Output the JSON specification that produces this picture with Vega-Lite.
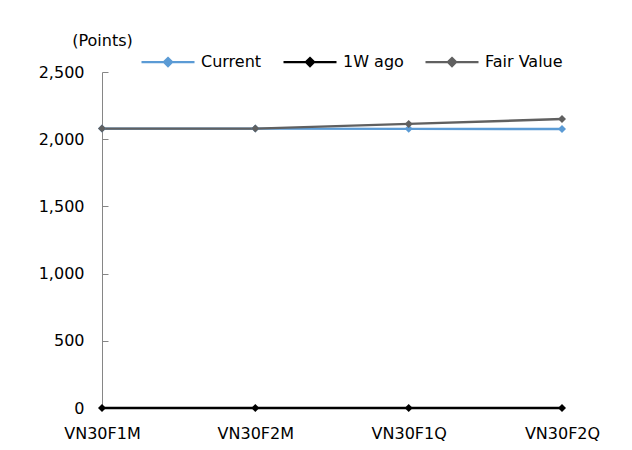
{
  "$schema": "https://vega.github.io/schema/vega-lite/v6.json",
  "autosize": {"type": "none"},
  "width": 460,
  "height": 336,
  "padding": {"left": 102, "top": 72, "right": 70, "bottom": 42},
  "background": "white",
  "config": {
    "view": {"stroke": null},
    "font": "DejaVu Sans",
    "axis": {"labelFont": "DejaVu Sans", "labelFontSize": 16, "labelColor": "#000", "titleFont": "DejaVu Sans"},
    "legend": {"labelFont": "DejaVu Sans", "labelFontSize": 16, "labelColor": "#000"}
  },
  "data": {
    "values": [
      {"series": "1W ago", "contract": "VN30F1M", "value": 0},
      {"series": "1W ago", "contract": "VN30F2M", "value": 0},
      {"series": "1W ago", "contract": "VN30F1Q", "value": 0},
      {"series": "1W ago", "contract": "VN30F2Q", "value": 0},
      {"series": "Current", "contract": "VN30F1M", "value": 2079},
      {"series": "Current", "contract": "VN30F2M", "value": 2079},
      {"series": "Current", "contract": "VN30F1Q", "value": 2077},
      {"series": "Current", "contract": "VN30F2Q", "value": 2076},
      {"series": "Fair Value", "contract": "VN30F1M", "value": 2079},
      {"series": "Fair Value", "contract": "VN30F2M", "value": 2079},
      {"series": "Fair Value", "contract": "VN30F1Q", "value": 2114},
      {"series": "Fair Value", "contract": "VN30F2Q", "value": 2150}
    ]
  },
  "mark": {"type": "line", "strokeWidth": 2.4, "point": {"filled": true, "shape": "diamond", "size": 64, "opacity": 1}},
  "encoding": {
    "x": {
      "field": "contract", "type": "ordinal",
      "sort": ["VN30F1M", "VN30F2M", "VN30F1Q", "VN30F2Q"],
      "scale": {"type": "point", "padding": 0},
      "axis": {"title": null, "labelAngle": 0, "ticks": false, "domain": true, "domainColor": "#000", "labelPadding": 17, "grid": false}
    },
    "y": {
      "field": "value", "type": "quantitative",
      "scale": {"domain": [0, 2500], "nice": false},
      "axis": {
        "values": [0, 500, 1000, 1500, 2000, 2500], "format": ",.0f", "grid": false,
        "domainColor": "#868686", "tickColor": "#868686", "tickSize": -6, "labelPadding": 24,
        "title": "(Points)", "titleAngle": 0, "titleX": 0, "titleY": -32, "titleAlign": "center",
        "titleBaseline": "middle", "titleFontSize": 16, "titleFontWeight": "normal", "titleColor": "#000"
      }
    },
    "color": {
      "field": "series", "type": "nominal",
      "scale": {"domain": ["Current", "1W ago", "Fair Value"], "range": ["#5B9BD5", "#000000", "#606060"]},
      "legend": {
        "title": null, "orient": "none", "direction": "horizontal", "legendX": 38, "legendY": -38,
        "symbolType": "M-1,0H1M0,-0.15L0.15,0L0,0.15L-0.15,0Z", "symbolSize": 2809, "symbolStrokeWidth": 2.4,
        "labelOffset": 5, "columnPadding": 16,
        "encode": {"symbols": {"update": {"fill": {"scale": "color", "field": "value"}, "stroke": {"scale": "color", "field": "value"}, "opacity": {"value": 1}}}}
      }
    }
  }
}
